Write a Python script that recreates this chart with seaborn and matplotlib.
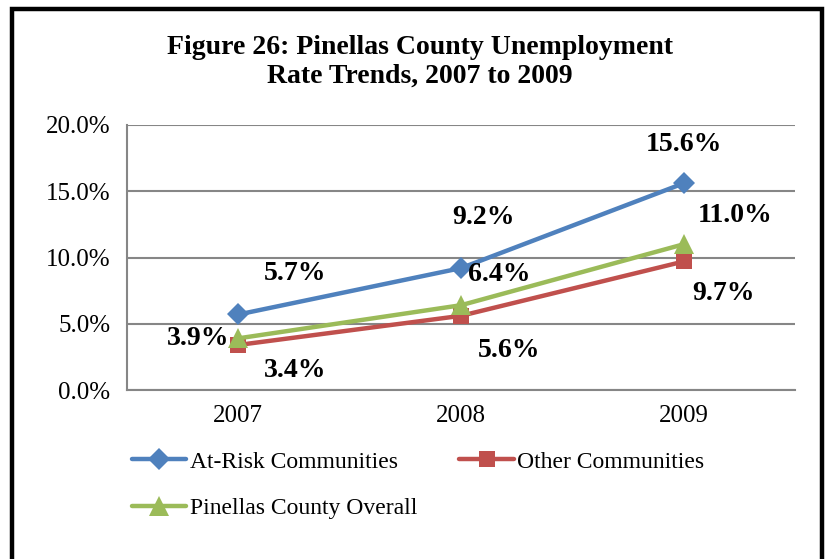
import matplotlib
matplotlib.use("Agg")
import matplotlib.pyplot as plt
from matplotlib.patches import Rectangle
from matplotlib.ticker import FuncFormatter
import pandas as pd
import seaborn as sns

# data
years = ["2007", "2008", "2009"]
at_risk = [5.7, 9.2, 15.6]
other = [3.4, 5.6, 9.7]
overall = [3.9, 6.4, 11.0]
series_names = ["At-Risk Communities", "Other Communities", "Pinellas County Overall"]
colors = ["#4F81BD", "#C0504D", "#9BBB59"]

df = pd.DataFrame({
    "year": years * 3,
    "rate": at_risk + other + overall,
    "series": [series_names[0]] * 3 + [series_names[1]] * 3 + [series_names[2]] * 3,
})
df["x"] = df["year"].map({y: i for i, y in enumerate(years)})

sns.set_style("white")
plt.rcParams["font.family"] = ["Liberation Serif", "DejaVu Serif"]
plt.rcParams["text.color"] = "black"
plt.rcParams["xtick.labelcolor"] = "black"
plt.rcParams["ytick.labelcolor"] = "black"

fig = plt.figure(figsize=(8.26, 5.59), dpi=100)
ax = fig.add_axes([0.1538, 0.3023, 0.9625 - 0.1538, 0.7764 - 0.3023])

sns.lineplot(data=df, x="x", y="rate", hue="series", style="series",
             markers=["D", "s", "^"], dashes=False, palette=colors,
             linewidth=3.2, markersize=11, markeredgewidth=0, ax=ax)
# triangles look smaller, bump them
for line in ax.lines:
    if line.get_marker() == "^":
        line.set_markersize(14)

ax.set_xlim(-0.5, 2.5)
ax.set_ylim(0, 20)
ax.set_yticks([0, 5, 10, 15, 20])
ax.yaxis.set_major_formatter(FuncFormatter(lambda v, p: f"{v:.1f}%"))
ax.set_xticks([0, 1, 2])
ax.set_xticklabels(years)
ax.set_xticks([-0.5, 0.5, 1.5, 2.5], minor=True)
ax.tick_params(axis="x", which="major", length=0, labelsize=18, pad=11)
ax.tick_params(axis="x", which="minor", length=8, width=1.5, color="#868686")
ax.tick_params(axis="y", length=8, width=1.5, color="#868686", labelsize=18, pad=4)
ax.set_xlabel("")
ax.set_ylabel("")
ax.grid(axis="y", color="#868686", linewidth=1.5)
for side in ["top", "right"]:
    ax.spines[side].set_visible(False)
for side in ["left", "bottom"]:
    ax.spines[side].set_color("#868686")
    ax.spines[side].set_linewidth(1.5)

# data labels
lab = dict(fontsize=20, fontweight="bold", ha="center", va="center", clip_on=False)
offsets = {
    series_names[0]: [(0.255, 3.1), (0.10, 3.85), (0.0, 2.95)],
    series_names[1]: [(0.255, -1.9), (0.215, -2.6), (0.18, -2.4)],
    series_names[2]: [(-0.18, 0.0), (0.17, 2.3), (0.233, 2.2)],
}
for name, vals in zip(series_names, [at_risk, other, overall]):
    for i, v in enumerate(vals):
        dx, dy = offsets[name][i]
        ax.text(i + dx, v + dy, f"{v:.1f}%", **lab)

fig.text(0.508, 0.89, "Figure 26: Pinellas County Unemployment\nRate Trends, 2007 to 2009",
         ha="center", va="center", fontsize=20, fontweight="bold", linespacing=1.2)

handles, labels = ax.get_legend_handles_labels()
order = [0, 2, 1]
ax.legend([handles[i] for i in order], [labels[i] for i in order], ncol=2,
          frameon=False, loc="upper left",
          bbox_to_anchor=(0.148, 0.21), bbox_transform=fig.transFigure,
          fontsize=17, handlelength=2.3, handletextpad=0.15, columnspacing=1.8,
          labelspacing=1.05, borderaxespad=0)

fig.patches.append(Rectangle((12 / 826, -0.05), (822 - 12) / 826, 1.05 - 9 / 559,
                             transform=fig.transFigure, fill=False,
                             edgecolor="black", linewidth=3.2))

fig.savefig("out.png", dpi=100)
